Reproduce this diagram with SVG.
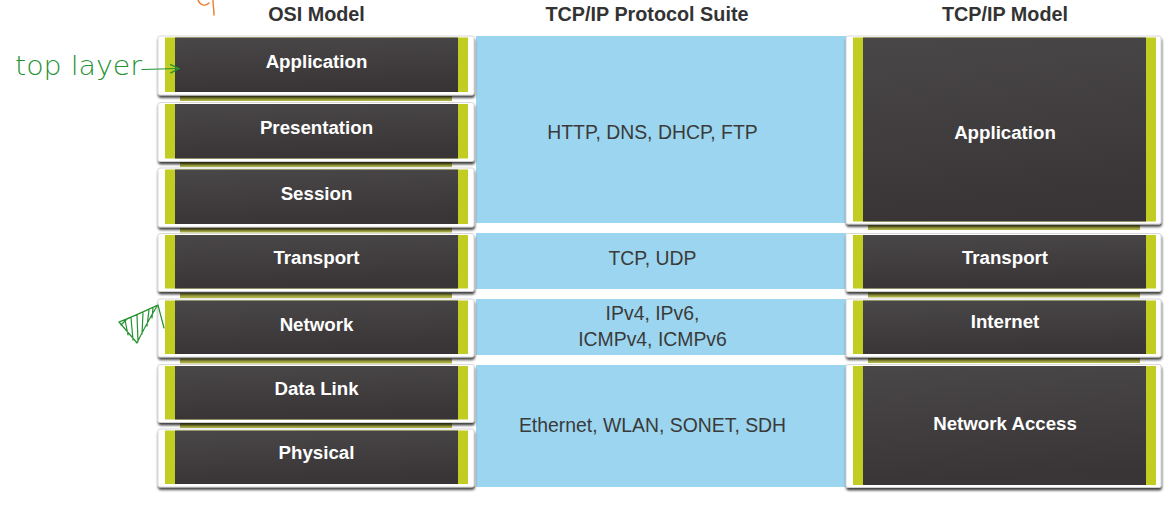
<svg xmlns="http://www.w3.org/2000/svg" width="1176" height="505" viewBox="0 0 1176 505">
<defs>
<linearGradient id="dk" x1="0" y1="0" x2="0.15" y2="1">
<stop offset="0" stop-color="#4a4748"/>
<stop offset="1" stop-color="#393536"/>
</linearGradient>
<linearGradient id="ol" x1="0" y1="0" x2="0" y2="1">
<stop offset="0" stop-color="#8f9236"/>
<stop offset="1" stop-color="#b4b84a"/>
</linearGradient>
<filter id="sh" x="-5%" y="-10%" width="110%" height="130%">
<feDropShadow dx="0.5" dy="2.5" stdDeviation="1.2" flood-color="#000" flood-opacity="0.75"/>
</filter>
<marker id="ah" viewBox="0 0 10 10" refX="9" refY="5" markerWidth="11" markerHeight="11" markerUnits="userSpaceOnUse" orient="auto">
<path d="M1,1 L9,5 L1,9" fill="none" stroke="#24912f" stroke-width="1.2"/>
</marker>
<style>
.frame{fill:#fff;stroke:#cfcfcf;stroke-width:0.8;filter:url(#sh)}
.bar{fill:#c1cd22}
.core{fill:url(#dk)}
.olive{fill:url(#ol)}
.band{fill:#9cd5ef}
.lbl{font-family:"Liberation Sans",Arial,sans-serif;font-size:18.7px;font-weight:bold;fill:#fff;text-anchor:middle}
.mid{font-family:"Liberation Sans",Arial,sans-serif;font-size:19.4px;fill:#3a3a3a;text-anchor:middle}
.hdr{font-family:"Liberation Sans",Arial,sans-serif;font-size:19.8px;font-weight:bold;fill:#333;text-anchor:middle}
.hand{fill:none;stroke:#24912f;stroke-width:1.2;stroke-linecap:round;stroke-linejoin:round}
</style>
</defs>
<rect width="1176" height="505" fill="#fff"/>

<g id="headers">
<text class="hdr" x="316.5" y="21">OSI Model</text>
<text class="hdr" x="647" y="21">TCP/IP Protocol Suite</text>
<text class="hdr" x="1005" y="21">TCP/IP Model</text>
</g>

<g id="suite">
<g id="suite-app"><rect class="band" x="476" y="36" width="370" height="187"/><text class="mid" x="652.5" y="138.5">HTTP, DNS, DHCP, FTP</text></g>
<g id="suite-transport"><rect class="band" x="476" y="233" width="370" height="56"/><text class="mid" x="652.5" y="264.5">TCP, UDP</text></g>
<g id="suite-internet"><rect class="band" x="476" y="299" width="370" height="56"/><text class="mid" x="652.5" y="320">IPv4, IPv6,</text><text class="mid" x="652.5" y="345.5">ICMPv4, ICMPv6</text></g>
<g id="suite-access"><rect class="band" x="476" y="365" width="370" height="122"/><text class="mid" x="652.5" y="431.5">Ethernet, WLAN, SONET, SDH</text></g>
</g>

<g id="olive-strips">
<rect class="olive" x="180" y="96" width="272" height="5"/>
<rect class="olive" x="180" y="162" width="272" height="5"/>
<rect class="olive" x="180" y="227.5" width="272" height="5"/>
<rect class="olive" x="180" y="293" width="272" height="5"/>
<rect class="olive" x="180" y="358.5" width="272" height="5"/>
<rect class="olive" x="180" y="423" width="272" height="5"/>
<rect class="olive" x="868" y="225" width="272" height="5"/>
<rect class="olive" x="868" y="292.5" width="272" height="5"/>
<rect class="olive" x="868" y="358" width="272" height="5"/>
</g>

<g id="osi-application"><rect class="frame" x="158" y="36" width="316" height="59" rx="2"/><rect class="bar" x="165" y="37.5" width="303" height="54.5"/><rect class="core" x="175" y="37.5" width="283" height="54.5"/><text class="lbl" x="316.5" y="67.5">Application</text></g>
<g id="osi-presentation"><rect class="frame" x="158" y="102.5" width="316" height="59" rx="2"/><rect class="bar" x="165" y="104" width="303" height="54.5"/><rect class="core" x="175" y="104" width="283" height="54.5"/><text class="lbl" x="316.5" y="133.5">Presentation</text></g>
<g id="osi-session"><rect class="frame" x="158" y="168" width="316" height="59" rx="2"/><rect class="bar" x="165" y="169.5" width="303" height="54.5"/><rect class="core" x="175" y="169.5" width="283" height="54.5"/><text class="lbl" x="316.5" y="199.5">Session</text></g>
<g id="osi-transport"><rect class="frame" x="158" y="233.5" width="316" height="58" rx="2"/><rect class="bar" x="165" y="235" width="303" height="53.5"/><rect class="core" x="175" y="235" width="283" height="53.5"/><text class="lbl" x="316.5" y="263.5">Transport</text></g>
<g id="osi-network"><rect class="frame" x="158" y="299" width="316" height="58" rx="2"/><rect class="bar" x="165" y="300.5" width="303" height="53.5"/><rect class="core" x="175" y="300.5" width="283" height="53.5"/><text class="lbl" x="316.5" y="330.5">Network</text></g>
<g id="osi-datalink"><rect class="frame" x="158" y="364.5" width="316" height="58" rx="2"/><rect class="bar" x="165" y="366" width="303" height="53.5"/><rect class="core" x="175" y="366" width="283" height="53.5"/><text class="lbl" x="316.5" y="394.5">Data Link</text></g>
<g id="osi-physical"><rect class="frame" x="158" y="429" width="316" height="58" rx="2"/><rect class="bar" x="165" y="430.5" width="303" height="53.5"/><rect class="core" x="175" y="430.5" width="283" height="53.5"/><text class="lbl" x="316.5" y="458.5">Physical</text></g>

<g id="tcpip-application"><rect class="frame" x="846" y="36" width="315" height="188" rx="2"/><rect class="bar" x="853" y="37.5" width="303" height="184"/><rect class="core" x="863" y="37.5" width="283" height="184"/><text class="lbl" x="1005" y="138.5">Application</text></g>
<g id="tcpip-transport"><rect class="frame" x="846" y="233.5" width="315" height="58" rx="2"/><rect class="bar" x="853" y="235" width="303" height="53.5"/><rect class="core" x="863" y="235" width="283" height="53.5"/><text class="lbl" x="1005" y="263.5">Transport</text></g>
<g id="tcpip-internet"><rect class="frame" x="846" y="299" width="315" height="58" rx="2"/><rect class="bar" x="853" y="300.5" width="303" height="53.5"/><rect class="core" x="863" y="300.5" width="283" height="53.5"/><text class="lbl" x="1005" y="327.5">Internet</text></g>
<g id="tcpip-access"><rect class="frame" x="846" y="364.5" width="315" height="123" rx="2"/><rect class="bar" x="853" y="366" width="303" height="119"/><rect class="core" x="863" y="366" width="283" height="119"/><text class="lbl" x="1005" y="429.5">Network Access</text></g>

<g id="annotation-top-layer">
<text x="15" y="75" textLength="127" lengthAdjust="spacingAndGlyphs" style="font-family:'DejaVu Sans',sans-serif;font-size:27px;font-weight:200;fill:#24912f">top layer</text>
</g>

<g id="connectors">
<path class="hand" d="M142,69.5 L179,68.5" marker-end="url(#ah)"/>
</g>

<g id="doodles">
<path class="hand" d="M119,322 C130,318 145,311 158,305 M158,305 C160,313 162,320 164,328 M119,322 C126,330 132,337 137,343 M137,343 C143,330 150,318 157,306 M125,320 L128,335 M131,318 L133,340 M137,315 L138,342 M143,313 L142,334 M149,310 L147,326 M153,308 L152,318 M121,325 L127,319"/>
<path d="M198,0 C200,5 205,7 209,3 M213,0 C213,5 214,10 214,15" fill="none" stroke="#f07a2a" stroke-width="1.4" stroke-linecap="round"/>
</g>
</svg>
